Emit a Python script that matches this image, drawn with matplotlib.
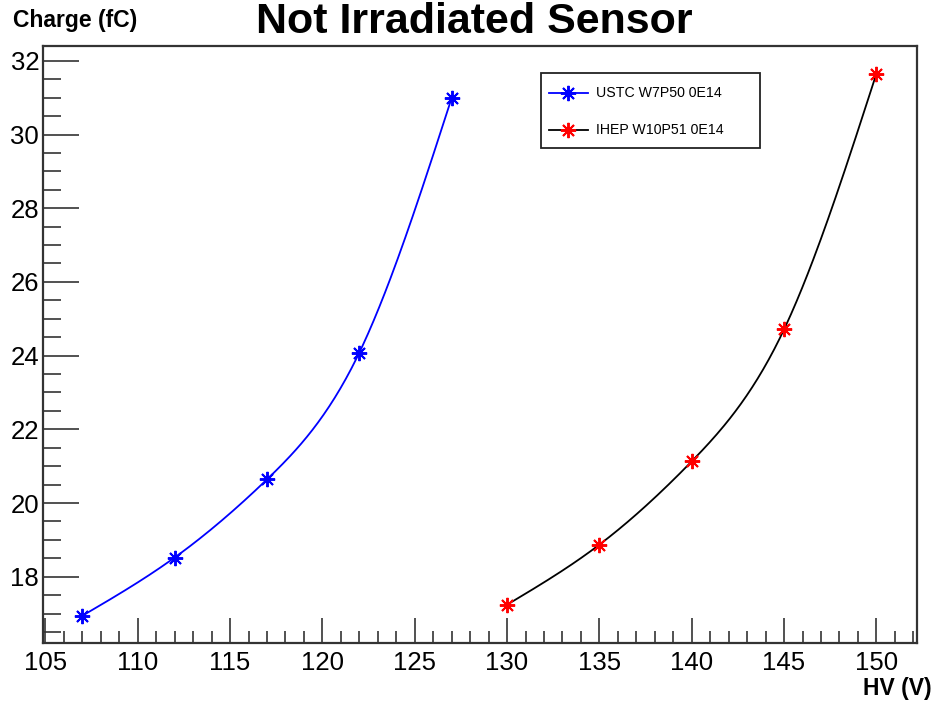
import numpy as np
import matplotlib
matplotlib.use("Agg")
import matplotlib.pyplot as plt
from matplotlib.ticker import MultipleLocator
from matplotlib.lines import Line2D
from matplotlib.patches import Rectangle

plt.rcParams['font.family'] = ['Liberation Sans', 'DejaVu Sans']

# Data
ustc_hv = [107, 112, 117, 122, 127]
ustc_charge = [16.94, 18.52, 20.64, 24.08, 30.99]
ihep_hv = [130, 135, 140, 145, 150]
ihep_charge = [17.24, 18.87, 21.13, 24.71, 31.65]
labels = ["USTC W7P50 0E14", "IHEP W10P51 0E14"]
title = "Not Irradiated Sensor"
xlabel = "HV (V)"
ylabel = "Charge (fC)"


def natural_spline(x, y, n=200):
    x = np.asarray(x, float); y = np.asarray(y, float)
    k = len(x)
    h = np.diff(x)
    A = np.zeros((k, k)); b = np.zeros(k)
    A[0, 0] = 1; A[-1, -1] = 1
    for i in range(1, k - 1):
        A[i, i - 1] = h[i - 1]
        A[i, i] = 2 * (h[i - 1] + h[i])
        A[i, i + 1] = h[i]
        b[i] = 3 * ((y[i + 1] - y[i]) / h[i] - (y[i] - y[i - 1]) / h[i - 1])
    c = np.linalg.solve(A, b)
    xs = np.linspace(x[0], x[-1], n)
    ys = np.empty_like(xs)
    for j, xv in enumerate(xs):
        i = min(np.searchsorted(x, xv, side='right') - 1, k - 2)
        bi = (y[i + 1] - y[i]) / h[i] - h[i] * (2 * c[i] + c[i + 1]) / 3
        di = (c[i + 1] - c[i]) / (3 * h[i])
        t = xv - x[i]
        ys[j] = y[i] + bi * t + c[i] * t ** 2 + di * t ** 3
    return xs, ys


W, H = 934, 701
fig = plt.figure(figsize=(W / 100, H / 100), dpi=100)
ax = fig.add_axes([0.0464, 0.0832, 0.9354, 0.8516])

star = (8, 2, 0)
colors_line = ['#0000ff', 'black']
colors_mark = ['#0000ff', '#ff0000']
for (hv, ch), cl, cm in zip([(ustc_hv, ustc_charge), (ihep_hv, ihep_charge)],
                            colors_line, colors_mark):
    sx, sy = natural_spline(hv, ch)
    ax.plot(sx, sy, color=cl, lw=1.3)
    ax.plot(hv, ch, ls='none', marker=star, ms=11, mew=1.4, color=cm)

ax.set_xlim(104.89, 152.2)
ax.set_ylim(16.21, 32.41)

ax.xaxis.set_major_locator(MultipleLocator(5))
ax.xaxis.set_minor_locator(MultipleLocator(1))
ax.yaxis.set_major_locator(MultipleLocator(2))
ax.yaxis.set_minor_locator(MultipleLocator(0.5))
ax.tick_params(axis='x', which='major', direction='in', length=18, width=1.2,
               labelsize=18.5, pad=6, color='#333333')
ax.tick_params(axis='x', which='minor', direction='in', length=9, width=1.2,
               color='#333333')
ax.tick_params(axis='y', which='major', direction='in', length=26, width=1.2,
               labelsize=18.5, pad=3, color='#333333')
ax.tick_params(axis='y', which='minor', direction='in', length=13, width=1.2,
               color='#333333')
for s in ax.spines.values():
    s.set_linewidth(1.6)
    s.set_color('#333333')

fig.text(474 / W, 1 - 22 / H, title, ha='center', va='center', fontsize=31,
         fontweight='bold')
fig.text(13 / W, 1 - 20 / H, ylabel, ha='left', va='center', fontsize=16.5,
         fontweight='bold')
fig.text(932 / W, 1 - 688 / H, xlabel, ha='right', va='center', fontsize=16.5,
         fontweight='bold')


def fx(px):
    return px / W


def fy(py):
    return 1 - py / H


fig.patches.append(Rectangle((fx(541), fy(148)), fx(760) - fx(541),
                             fy(73) - fy(148), transform=fig.transFigure,
                             facecolor='white', edgecolor='#222222', lw=1.3,
                             zorder=5))
for lab, cl, cm, ypx in zip(labels, colors_line, colors_mark, [93, 130]):
    fig.add_artist(Line2D([fx(549), fx(588)], [fy(ypx), fy(ypx)],
                          transform=fig.transFigure, color=cl, lw=1.3,
                          zorder=6))
    fig.add_artist(Line2D([fx(568)], [fy(ypx)], transform=fig.transFigure,
                          ls='none', marker=star, ms=11, mew=1.4, color=cm,
                          zorder=7))
    fig.text(fx(596), fy(ypx), lab, ha='left', va='center', fontsize=10.2,
             zorder=7)

fig.savefig('out.png', dpi=100)
